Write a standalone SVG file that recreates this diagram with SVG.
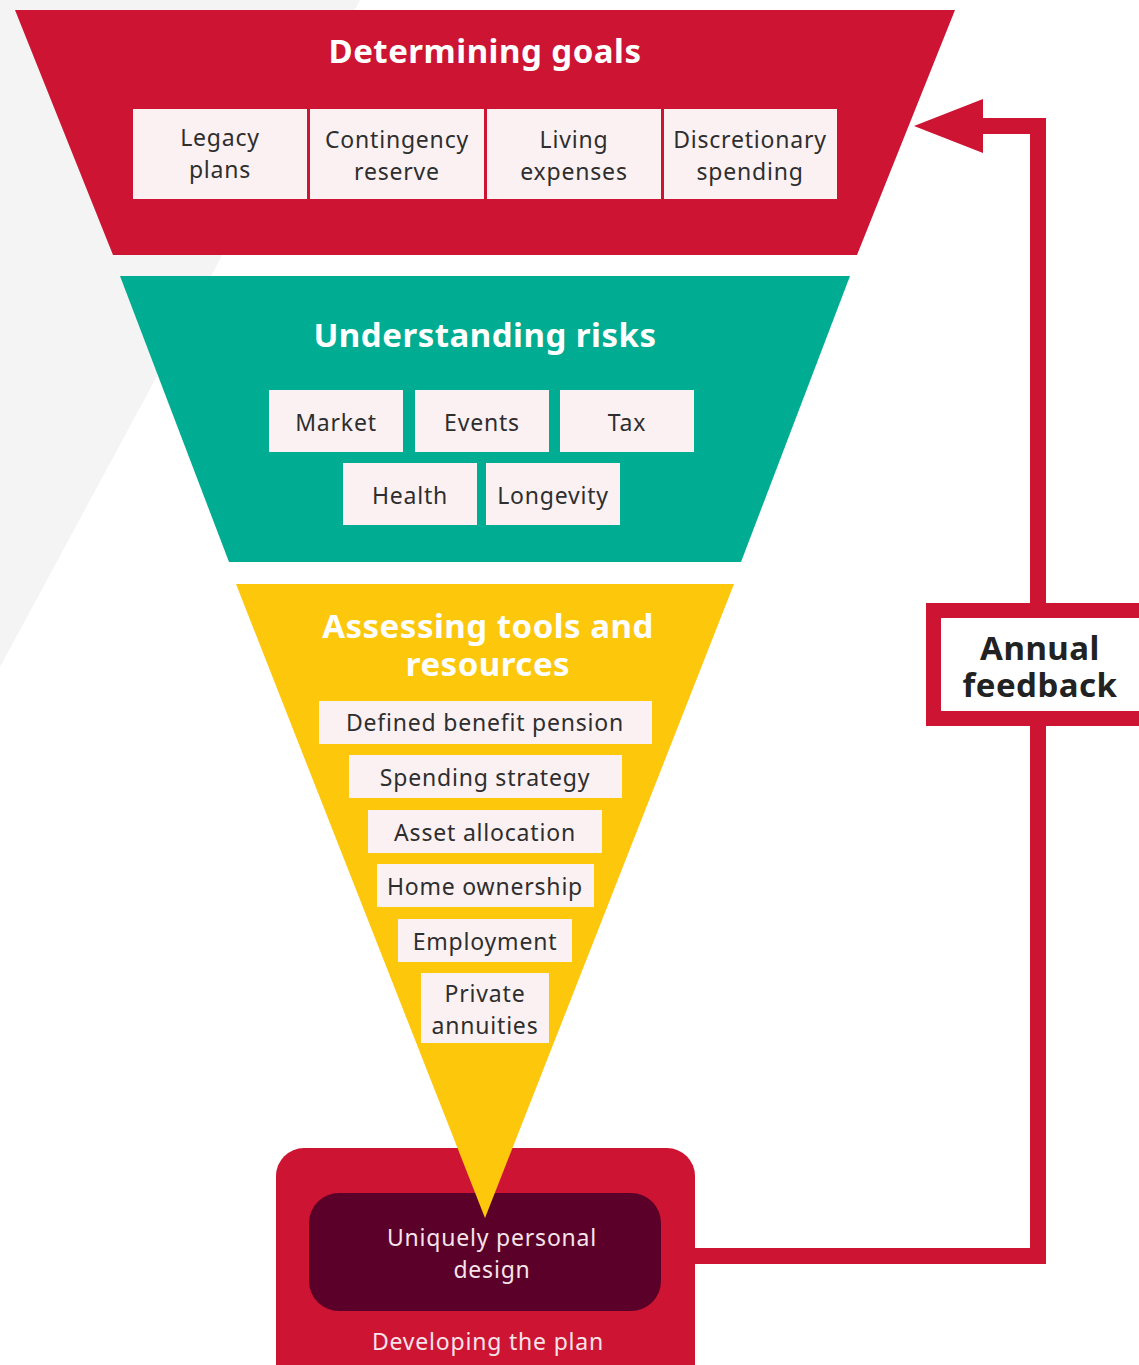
<svg xmlns="http://www.w3.org/2000/svg" width="1139" height="1365" viewBox="0 0 1139 1365">
<style>
.title{font-family:"Noto Sans","Liberation Sans",sans-serif;font-weight:700;font-size:33px;fill:#ffffff;text-anchor:middle;letter-spacing:0.5px}
.item{fill:#fbf1f3}
.lbl{font-family:"Noto Sans","Liberation Sans",sans-serif;font-size:23px;fill:#2e2e2e;text-anchor:middle;letter-spacing:0.8px}
.light{font-family:"Noto Sans","Liberation Sans",sans-serif;font-size:23px;fill:#f6e4ea;text-anchor:middle;letter-spacing:0.8px}
.fb{font-family:"Noto Sans","Liberation Sans",sans-serif;font-weight:700;font-size:33px;fill:#222222;text-anchor:middle;letter-spacing:0.5px}
</style>
<defs>
<marker id="arrow" markerUnits="userSpaceOnUse" viewBox="0 0 69 54" markerWidth="69" markerHeight="54" refX="0" refY="27" orient="auto">
<polygon points="0,0 69,27 0,54" fill="#cd1432"/>
</marker>
</defs>
<rect x="0" y="0" width="1139" height="1365" fill="#ffffff"/>
<polygon points="0,0 360,0 0,667" fill="#f4f4f4"/>

<g id="connectors">
<polyline points="695,1256 1038,1256 1038,126 983,126" fill="none" stroke="#cd1432" stroke-width="16" stroke-linejoin="miter" marker-end="url(#arrow)"/>
</g>

<g id="determining-goals">
<polygon points="15,10 955,10 857,255 113,255" fill="#cd1432"/>
<text class="title" x="485" y="63">Determining goals</text>
<rect class="item" x="133" y="109" width="174" height="90"/>
<rect class="item" x="310" y="109" width="174" height="90"/>
<rect class="item" x="487" y="109" width="174" height="90"/>
<rect class="item" x="664" y="109" width="173" height="90"/>
<text class="lbl" x="220" y="146">Legacy</text>
<text class="lbl" x="220" y="178">plans</text>
<text class="lbl" x="397" y="148">Contingency</text>
<text class="lbl" x="397" y="180">reserve</text>
<text class="lbl" x="574" y="148">Living</text>
<text class="lbl" x="574" y="180">expenses</text>
<text class="lbl" x="750" y="148">Discretionary</text>
<text class="lbl" x="750" y="180">spending</text>
</g>

<g id="understanding-risks">
<polygon points="120,276 850,276 741,562 229,562" fill="#00ad92"/>
<text class="title" x="485" y="347">Understanding risks</text>
<rect class="item" x="269" y="390" width="134" height="62"/>
<rect class="item" x="415" y="390" width="134" height="62"/>
<rect class="item" x="560" y="390" width="134" height="62"/>
<rect class="item" x="343" y="463" width="134" height="62"/>
<rect class="item" x="486" y="463" width="134" height="62"/>
<text class="lbl" x="336" y="431">Market</text>
<text class="lbl" x="482" y="431">Events</text>
<text class="lbl" x="627" y="431">Tax</text>
<text class="lbl" x="410" y="504">Health</text>
<text class="lbl" x="553" y="504">Longevity</text>
</g>

<g id="developing-plan">
<rect x="276" y="1148" width="419" height="250" rx="28" fill="#cd1432"/>
<rect x="309" y="1193" width="352" height="118" rx="30" fill="#5a0029"/>
<text class="light" x="492" y="1246">Uniquely personal</text>
<text class="light" x="492" y="1278">design</text>
<text class="light" x="488" y="1350">Developing the plan</text>
</g>

<g id="assessing-tools">
<polygon points="236,584 734,584 485,1218" fill="#fdc70c"/>
<text class="title" x="488" y="638">Assessing tools and</text>
<text class="title" x="488" y="676">resources</text>
<rect class="item" x="319" y="701" width="333" height="43"/>
<rect class="item" x="349" y="755" width="273" height="43"/>
<rect class="item" x="368" y="810" width="234" height="43"/>
<rect class="item" x="377" y="864" width="217" height="43"/>
<rect class="item" x="398" y="919" width="174" height="43"/>
<rect class="item" x="421" y="973" width="128" height="70"/>
<text class="lbl" x="485" y="731">Defined benefit pension</text>
<text class="lbl" x="485" y="786">Spending strategy</text>
<text class="lbl" x="485" y="841">Asset allocation</text>
<text class="lbl" x="485" y="895">Home ownership</text>
<text class="lbl" x="485" y="950">Employment</text>
<text class="lbl" x="485" y="1002">Private</text>
<text class="lbl" x="485" y="1034">annuities</text>
</g>

<g id="annual-feedback">
<rect x="933.5" y="610.5" width="230" height="108" fill="#ffffff" stroke="#cd1432" stroke-width="15"/>
<text class="fb" x="1040" y="660">Annual</text>
<text class="fb" x="1040" y="697">feedback</text>
</g>
</svg>
